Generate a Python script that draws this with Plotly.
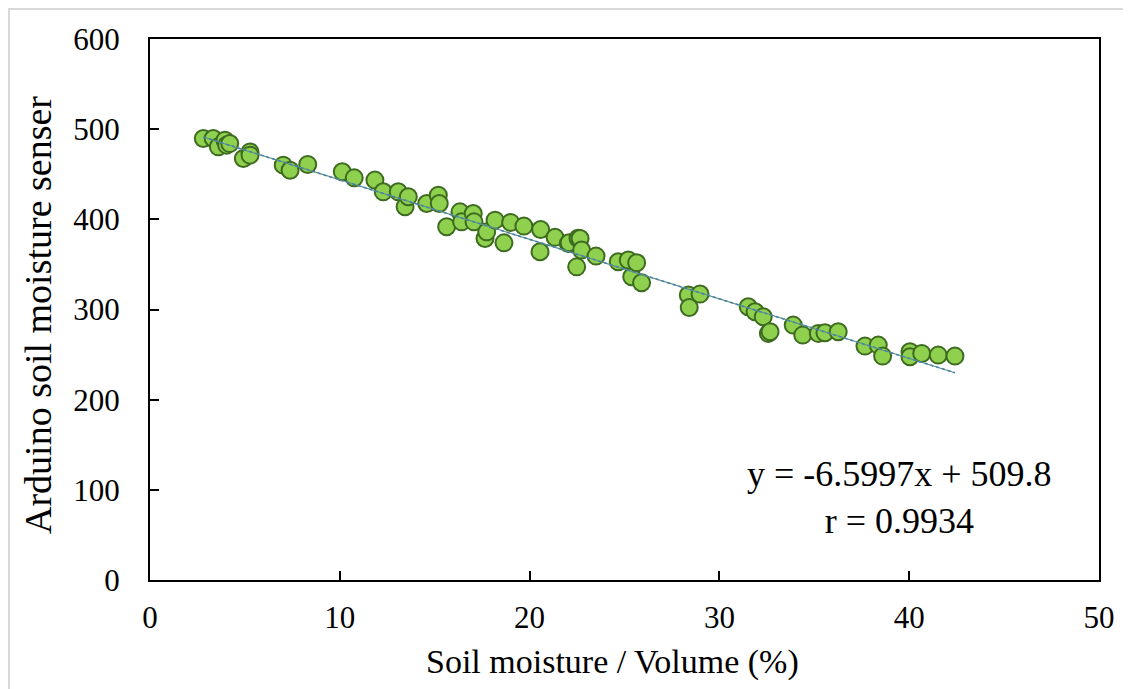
import plotly.graph_objects as go
import numpy as np

soil_moisture = [2.81, 3.33, 3.6, 3.95, 4.04, 4.2, 4.92, 5.27, 5.27,
                 7.02, 7.38, 8.31, 10.13, 10.76, 11.85, 12.29, 13.08, 13.44, 13.61,
                 14.58, 15.19, 15.24, 15.63, 16.33, 16.42, 17.03, 17.07, 17.65, 17.74,
                 18.18, 18.65, 19.0, 19.7, 20.55, 20.58, 21.34, 22.04, 22.08, 22.48,
                 22.55, 22.66, 22.74, 23.5, 24.67, 25.2, 25.38, 25.64, 25.9,
                 28.36, 28.41, 28.98, 31.52, 31.88, 32.31, 32.58, 32.67, 33.89,
                 34.39, 35.21, 35.56, 36.26, 37.67, 38.37, 38.6, 40.04, 40.04,
                 40.66, 41.53, 42.41]
sensor_value = [489.7, 489.7, 480.4, 487.8, 482.3, 484.0, 467.5, 474.8, 471.2,
                460.1, 454.5, 460.9, 452.7, 446.0, 443.5, 430.5, 430.5, 413.9, 425.0,
                417.6, 426.8, 417.6, 391.7, 408.3, 397.2, 406.5, 397.2, 378.8, 386.1,
                399.1, 373.9, 396.6, 392.5, 364.0, 388.8, 380.0, 373.3, 374.0, 347.3,
                379.0, 378.8, 365.9, 359.2, 352.9, 354.8, 336.3, 351.8, 329.6,
                316.0, 302.3, 317.1, 303.0, 297.5, 291.9, 273.5, 275.3, 282.7,
                271.6, 273.5, 274.2, 275.3, 259.4, 260.5, 248.3, 253.1, 247.6,
                251.3, 249.4, 248.3]

slope = -6.5997
intercept = 509.8
r_value = 0.9934

x_ticks = [0, 10, 20, 30, 40, 50]
y_ticks = [0, 100, 200, 300, 400, 500, 600]
x_title = "Soil moisture / Volume (%)"
y_title = "Arduino soil moisture senser"

font_family = "Liberation Serif, Times New Roman, serif"

fig = go.Figure()
fig.add_trace(go.Scatter(
    x=soil_moisture, y=sensor_value, mode="markers",
    marker=dict(size=17, color="#8fd14f", line=dict(color="#3d6b1f", width=2)),
    showlegend=False,
))
xl = np.array([min(soil_moisture), max(soil_moisture)])
yl = slope * xl + intercept
fig.add_trace(go.Scatter(x=xl, y=yl, mode="lines",
                         line=dict(color="#6b8f7a", width=1.2),
                         showlegend=False, hoverinfo="skip"))
fig.add_trace(go.Scatter(x=xl, y=yl, mode="lines",
                         line=dict(color="#3f86b5", width=1.6, dash="3px,3px"),
                         showlegend=False, hoverinfo="skip"))

fig.add_annotation(
    x=39.5, y=91, xref="x", yref="y",
    text=f"y = {slope}x + {intercept}<br>r = {r_value}",
    showarrow=False, align="center",
    font=dict(family=font_family, size=36, color="black"),
)

# page body has an 8px margin; place the plot area to match the reference
W, H = 1123, 681
L, T = 142, 31
pw, ph = 949, 541
R, B = W - L - pw, H - T - ph

fig.add_annotation(
    x=(612 - 8 - L) / pw, y=(T + ph - (662 - 8)) / ph, xref="paper", yref="paper",
    text=x_title, showarrow=False, xanchor="center", yanchor="middle",
    font=dict(family=font_family, size=34, color="black"),
)
fig.add_annotation(
    x=(38 - 8 - L) / pw, y=(T + ph - (315 - 8)) / ph, xref="paper", yref="paper",
    text=y_title, showarrow=False, xanchor="center", yanchor="middle", textangle=-90,
    font=dict(family=font_family, size=38, color="black"),
)

axis_common = dict(
    showline=True, linecolor="black", linewidth=2, mirror=True,
    ticks="inside", ticklen=9, tickwidth=2, tickcolor="black",
    showgrid=False, zeroline=False,
    tickfont=dict(family=font_family, size=31, color="black"),
)

fig.update_xaxes(range=[0, 50], tickvals=x_ticks, ticklabelstandoff=9, **axis_common)
fig.update_yaxes(range=[0, 600], tickvals=y_ticks, ticklabelstandoff=22, **axis_common)

fig.add_shape(type="line", xref="paper", yref="paper",
              x0=-L / pw, x1=(W + 10) / pw, y0=(ph + T - 1) / ph, y1=(ph + T - 1) / ph,
              line=dict(color="#d9d9d9", width=2), layer="below")
fig.add_shape(type="line", xref="paper", yref="paper",
              x0=(-L + 1) / pw, x1=(-L + 1) / pw, y0=-(B + 10) / ph, y1=(ph + T - 1) / ph,
              line=dict(color="#d9d9d9", width=2), layer="below")

fig.update_layout(
    width=W, height=H,
    margin=dict(l=L, r=R, t=T, b=B),
    paper_bgcolor="white", plot_bgcolor="white",
)

fig.write_html("out.html")
